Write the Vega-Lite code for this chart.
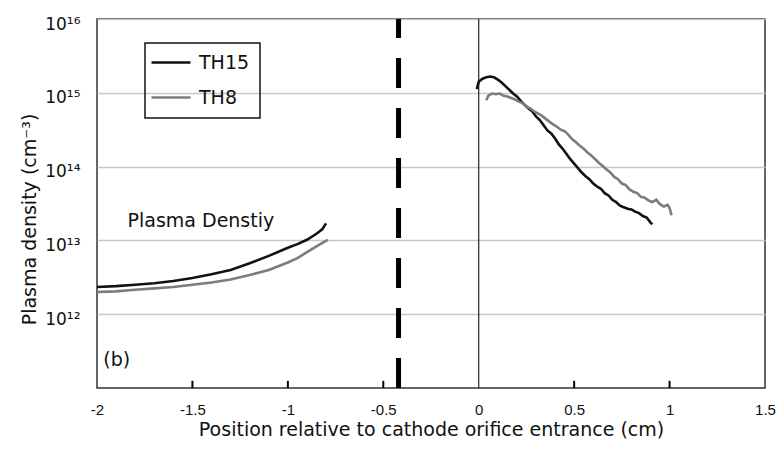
{
  "$schema": "https://vega.github.io/schema/vega-lite/v6.json",
  "width": 668,
  "height": 369,
  "autosize": "none",
  "padding": {"left": 97, "top": 19, "right": 15, "bottom": 63},
  "background": "white",
  "config": {
    "view": {"stroke": "#333333", "strokeWidth": 1.5},
    "axis": {"labelColor": "#111111", "titleColor": "#111111", "titleFontWeight": "normal"},
    "legend": {"strokeWidth": 1.5}
  },
  "datasets": {
    "curves": [
      {"series": "TH15", "seg": "L", "x": -2.0, "n": 2.34e12},
      {"series": "TH15", "seg": "L", "x": -1.9, "n": 2.40e12},
      {"series": "TH15", "seg": "L", "x": -1.8, "n": 2.51e12},
      {"series": "TH15", "seg": "L", "x": -1.7, "n": 2.63e12},
      {"series": "TH15", "seg": "L", "x": -1.6, "n": 2.82e12},
      {"series": "TH15", "seg": "L", "x": -1.5, "n": 3.09e12},
      {"series": "TH15", "seg": "L", "x": -1.4, "n": 3.47e12},
      {"series": "TH15", "seg": "L", "x": -1.3, "n": 3.98e12},
      {"series": "TH15", "seg": "L", "x": -1.2, "n": 4.90e12},
      {"series": "TH15", "seg": "L", "x": -1.1, "n": 6.17e12},
      {"series": "TH15", "seg": "L", "x": -1.0, "n": 7.94e12},
      {"series": "TH15", "seg": "L", "x": -0.95, "n": 8.91e12},
      {"series": "TH15", "seg": "L", "x": -0.9, "n": 1.02e13},
      {"series": "TH15", "seg": "L", "x": -0.85, "n": 1.23e13},
      {"series": "TH15", "seg": "L", "x": -0.82, "n": 1.41e13},
      {"series": "TH15", "seg": "L", "x": -0.8, "n": 1.70e13},
      {"series": "TH15", "seg": "R", "x": -0.01, "n": 1.12e15},
      {"series": "TH15", "seg": "R", "x": 0.0, "n": 1.41e15},
      {"series": "TH15", "seg": "R", "x": 0.02, "n": 1.55e15},
      {"series": "TH15", "seg": "R", "x": 0.04, "n": 1.62e15},
      {"series": "TH15", "seg": "R", "x": 0.06, "n": 1.66e15},
      {"series": "TH15", "seg": "R", "x": 0.08, "n": 1.62e15},
      {"series": "TH15", "seg": "R", "x": 0.10, "n": 1.51e15},
      {"series": "TH15", "seg": "R", "x": 0.12, "n": 1.38e15},
      {"series": "TH15", "seg": "R", "x": 0.14, "n": 1.23e15},
      {"series": "TH15", "seg": "R", "x": 0.16, "n": 1.10e15},
      {"series": "TH15", "seg": "R", "x": 0.18, "n": 9.77e14},
      {"series": "TH15", "seg": "R", "x": 0.20, "n": 8.91e14},
      {"series": "TH15", "seg": "R", "x": 0.22, "n": 7.76e14},
      {"series": "TH15", "seg": "R", "x": 0.24, "n": 6.92e14},
      {"series": "TH15", "seg": "R", "x": 0.26, "n": 6.17e14},
      {"series": "TH15", "seg": "R", "x": 0.28, "n": 5.62e14},
      {"series": "TH15", "seg": "R", "x": 0.30, "n": 4.79e14},
      {"series": "TH15", "seg": "R", "x": 0.32, "n": 4.27e14},
      {"series": "TH15", "seg": "R", "x": 0.34, "n": 3.63e14},
      {"series": "TH15", "seg": "R", "x": 0.36, "n": 3.09e14},
      {"series": "TH15", "seg": "R", "x": 0.38, "n": 2.82e14},
      {"series": "TH15", "seg": "R", "x": 0.40, "n": 2.40e14},
      {"series": "TH15", "seg": "R", "x": 0.42, "n": 2.00e14},
      {"series": "TH15", "seg": "R", "x": 0.44, "n": 1.74e14},
      {"series": "TH15", "seg": "R", "x": 0.46, "n": 1.48e14},
      {"series": "TH15", "seg": "R", "x": 0.48, "n": 1.26e14},
      {"series": "TH15", "seg": "R", "x": 0.50, "n": 1.10e14},
      {"series": "TH15", "seg": "R", "x": 0.52, "n": 9.55e13},
      {"series": "TH15", "seg": "R", "x": 0.54, "n": 8.32e13},
      {"series": "TH15", "seg": "R", "x": 0.56, "n": 7.41e13},
      {"series": "TH15", "seg": "R", "x": 0.58, "n": 6.76e13},
      {"series": "TH15", "seg": "R", "x": 0.60, "n": 5.89e13},
      {"series": "TH15", "seg": "R", "x": 0.62, "n": 5.37e13},
      {"series": "TH15", "seg": "R", "x": 0.64, "n": 5.01e13},
      {"series": "TH15", "seg": "R", "x": 0.66, "n": 4.37e13},
      {"series": "TH15", "seg": "R", "x": 0.68, "n": 4.07e13},
      {"series": "TH15", "seg": "R", "x": 0.70, "n": 3.55e13},
      {"series": "TH15", "seg": "R", "x": 0.72, "n": 3.31e13},
      {"series": "TH15", "seg": "R", "x": 0.74, "n": 2.95e13},
      {"series": "TH15", "seg": "R", "x": 0.76, "n": 2.82e13},
      {"series": "TH15", "seg": "R", "x": 0.78, "n": 2.69e13},
      {"series": "TH15", "seg": "R", "x": 0.80, "n": 2.63e13},
      {"series": "TH15", "seg": "R", "x": 0.82, "n": 2.45e13},
      {"series": "TH15", "seg": "R", "x": 0.84, "n": 2.34e13},
      {"series": "TH15", "seg": "R", "x": 0.86, "n": 2.14e13},
      {"series": "TH15", "seg": "R", "x": 0.88, "n": 2.04e13},
      {"series": "TH15", "seg": "R", "x": 0.90, "n": 1.74e13},
      {"series": "TH15", "seg": "R", "x": 0.91, "n": 1.66e13},
      {"series": "TH8", "seg": "L", "x": -2.0, "n": 2.00e12},
      {"series": "TH8", "seg": "L", "x": -1.9, "n": 2.04e12},
      {"series": "TH8", "seg": "L", "x": -1.8, "n": 2.14e12},
      {"series": "TH8", "seg": "L", "x": -1.7, "n": 2.24e12},
      {"series": "TH8", "seg": "L", "x": -1.6, "n": 2.34e12},
      {"series": "TH8", "seg": "L", "x": -1.5, "n": 2.51e12},
      {"series": "TH8", "seg": "L", "x": -1.4, "n": 2.69e12},
      {"series": "TH8", "seg": "L", "x": -1.3, "n": 2.95e12},
      {"series": "TH8", "seg": "L", "x": -1.2, "n": 3.39e12},
      {"series": "TH8", "seg": "L", "x": -1.1, "n": 3.98e12},
      {"series": "TH8", "seg": "L", "x": -1.0, "n": 5.01e12},
      {"series": "TH8", "seg": "L", "x": -0.95, "n": 5.75e12},
      {"series": "TH8", "seg": "L", "x": -0.9, "n": 6.92e12},
      {"series": "TH8", "seg": "L", "x": -0.85, "n": 8.32e12},
      {"series": "TH8", "seg": "L", "x": -0.81, "n": 9.55e12},
      {"series": "TH8", "seg": "L", "x": -0.79, "n": 1.02e13},
      {"series": "TH8", "seg": "R", "x": 0.04, "n": 7.94e14},
      {"series": "TH8", "seg": "R", "x": 0.05, "n": 9.12e14},
      {"series": "TH8", "seg": "R", "x": 0.07, "n": 9.77e14},
      {"series": "TH8", "seg": "R", "x": 0.09, "n": 9.55e14},
      {"series": "TH8", "seg": "R", "x": 0.11, "n": 9.77e14},
      {"series": "TH8", "seg": "R", "x": 0.13, "n": 9.12e14},
      {"series": "TH8", "seg": "R", "x": 0.15, "n": 8.91e14},
      {"series": "TH8", "seg": "R", "x": 0.17, "n": 8.51e14},
      {"series": "TH8", "seg": "R", "x": 0.19, "n": 8.13e14},
      {"series": "TH8", "seg": "R", "x": 0.21, "n": 7.59e14},
      {"series": "TH8", "seg": "R", "x": 0.23, "n": 7.24e14},
      {"series": "TH8", "seg": "R", "x": 0.25, "n": 6.46e14},
      {"series": "TH8", "seg": "R", "x": 0.27, "n": 6.17e14},
      {"series": "TH8", "seg": "R", "x": 0.29, "n": 5.62e14},
      {"series": "TH8", "seg": "R", "x": 0.31, "n": 5.25e14},
      {"series": "TH8", "seg": "R", "x": 0.33, "n": 4.90e14},
      {"series": "TH8", "seg": "R", "x": 0.35, "n": 4.47e14},
      {"series": "TH8", "seg": "R", "x": 0.37, "n": 4.07e14},
      {"series": "TH8", "seg": "R", "x": 0.39, "n": 3.72e14},
      {"series": "TH8", "seg": "R", "x": 0.41, "n": 3.47e14},
      {"series": "TH8", "seg": "R", "x": 0.43, "n": 3.16e14},
      {"series": "TH8", "seg": "R", "x": 0.45, "n": 3.02e14},
      {"series": "TH8", "seg": "R", "x": 0.47, "n": 2.69e14},
      {"series": "TH8", "seg": "R", "x": 0.49, "n": 2.34e14},
      {"series": "TH8", "seg": "R", "x": 0.51, "n": 2.14e14},
      {"series": "TH8", "seg": "R", "x": 0.53, "n": 1.91e14},
      {"series": "TH8", "seg": "R", "x": 0.55, "n": 1.74e14},
      {"series": "TH8", "seg": "R", "x": 0.57, "n": 1.55e14},
      {"series": "TH8", "seg": "R", "x": 0.59, "n": 1.41e14},
      {"series": "TH8", "seg": "R", "x": 0.61, "n": 1.26e14},
      {"series": "TH8", "seg": "R", "x": 0.63, "n": 1.12e14},
      {"series": "TH8", "seg": "R", "x": 0.65, "n": 1.02e14},
      {"series": "TH8", "seg": "R", "x": 0.67, "n": 9.12e13},
      {"series": "TH8", "seg": "R", "x": 0.69, "n": 8.32e13},
      {"series": "TH8", "seg": "R", "x": 0.71, "n": 7.24e13},
      {"series": "TH8", "seg": "R", "x": 0.73, "n": 6.76e13},
      {"series": "TH8", "seg": "R", "x": 0.75, "n": 5.89e13},
      {"series": "TH8", "seg": "R", "x": 0.77, "n": 5.62e13},
      {"series": "TH8", "seg": "R", "x": 0.79, "n": 4.90e13},
      {"series": "TH8", "seg": "R", "x": 0.81, "n": 4.57e13},
      {"series": "TH8", "seg": "R", "x": 0.83, "n": 4.37e13},
      {"series": "TH8", "seg": "R", "x": 0.85, "n": 3.89e13},
      {"series": "TH8", "seg": "R", "x": 0.87, "n": 3.80e13},
      {"series": "TH8", "seg": "R", "x": 0.89, "n": 3.47e13},
      {"series": "TH8", "seg": "R", "x": 0.91, "n": 3.31e13},
      {"series": "TH8", "seg": "R", "x": 0.93, "n": 3.55e13},
      {"series": "TH8", "seg": "R", "x": 0.95, "n": 3.09e13},
      {"series": "TH8", "seg": "R", "x": 0.97, "n": 2.88e13},
      {"series": "TH8", "seg": "R", "x": 0.99, "n": 3.02e13},
      {"series": "TH8", "seg": "R", "x": 1.00, "n": 2.75e13},
      {"series": "TH8", "seg": "R", "x": 1.01, "n": 2.19e13}
    ],
    "notes": [
      {"label": "Plasma Denstiy", "x": -1.84, "n": 1.83e13},
      {"label": "(b)", "x": -1.967, "n": 2.4e11}
    ],
    "zero": [{"x": 0}],
    "orifice": [{"x": -0.42, "lo": 1e11, "hi": 1e16}],
    "tickmarks": [
      {"tx": -1.5, "tlo": 1e11, "thi": 1.25e11},
      {"tx": -1.0, "tlo": 1e11, "thi": 1.25e11},
      {"tx": -0.5, "tlo": 1e11, "thi": 1.25e11},
      {"tx": 0.5, "tlo": 1e11, "thi": 1.25e11},
      {"tx": 1.0, "tlo": 1e11, "thi": 1.25e11}
    ]
  },
  "layer": [
    {
      "data": {"name": "zero"},
      "mark": {"type": "rule", "color": "#222222", "strokeWidth": 1.2},
      "encoding": {
        "x": {"field": "x", "type": "quantitative", "scale": {"domain": [-2, 1.5], "nice": false, "zero": false}}
      }
    },
    {
      "data": {"name": "orifice"},
      "mark": {"type": "rule", "color": "#000000", "strokeWidth": 5, "strokeDash": [30, 20]},
      "encoding": {
        "x": {"field": "x", "type": "quantitative"},
        "y": {"field": "lo", "type": "quantitative"},
        "y2": {"field": "hi"}
      }
    },
    {
      "data": {"name": "curves"},
      "mark": {"type": "line", "strokeWidth": 2.6, "clip": true},
      "encoding": {
        "x": {
          "field": "x", "type": "quantitative",
          "scale": {"domain": [-2, 1.5], "nice": false, "zero": false},
          "axis": {
            "title": "Position relative to cathode orifice entrance (cm)",
            "titleFont": "DejaVu Sans", "titleFontSize": 19,
            "titleY": 47, "titleBaseline": "alphabetic",
            "values": [-2, -1.5, -1, -0.5, 0, 0.5, 1, 1.5],
            "labelExpr": "'' + datum.value",
            "labelFont": "Liberation Sans", "labelFontSize": 15,
            "labelBaseline": "alphabetic", "labelPadding": 26,
            "labelFlush": false, "labelOverlap": false,
            "ticks": false,
            "domain": false, "grid": false
          }
        },
        "y": {
          "field": "n", "type": "quantitative",
          "scale": {"type": "log", "domain": [1e11, 1e16], "nice": false},
          "axis": {
            "title": "Plasma density (cm⁻³)",
            "titleFont": "DejaVu Sans", "titleFontSize": 19,
            "titleX": -68, "titleY": 200, "titleAngle": 270,
            "titleAlign": "center", "titleBaseline": "middle",
            "values": [1e12, 1e13, 1e14, 1e15, 1e16],
            "labelExpr": "datum.value > 5e15 ? '10¹⁶' : datum.value > 5e14 ? '10¹⁵' : datum.value > 5e13 ? '10¹⁴' : datum.value > 5e12 ? '10¹³' : '10¹²'",
            "labelFont": "DejaVu Sans", "labelFontSize": 17,
            "labelPadding": 17, "labelOffset": 5,
            "ticks": false, "domain": false,
            "grid": true, "gridColor": "#c8c8c8", "gridWidth": 1.5
          }
        },
        "color": {
          "field": "series", "type": "nominal",
          "scale": {"domain": ["TH15", "TH8"], "range": ["#111111", "#7c7c7c"]},
          "legend": {
            "title": null,
            "orient": "none", "legendX": 48, "legendY": 24,
            "padding": 10, "strokeColor": "#111111",
            "symbolType": "M-1.625,0H3.25", "symbolSize": 256, "symbolStrokeWidth": 2.6,
            "labelOffset": 25, "labelFont": "DejaVu Sans", "labelFontSize": 19, "labelColor": "#111111",
            "rowPadding": 15
          }
        },
        "detail": {"field": "seg", "type": "nominal"}
      }
    },
    {
      "data": {"name": "tickmarks"},
      "mark": {"type": "rule", "color": "#000000", "strokeWidth": 2},
      "encoding": {
        "x": {"field": "tx", "type": "quantitative"},
        "y": {"field": "tlo", "type": "quantitative"},
        "y2": {"field": "thi"}
      }
    },
    {
      "data": {"name": "notes"},
      "mark": {"type": "text", "align": "left", "baseline": "middle", "font": "DejaVu Sans", "fontSize": 19, "color": "#111111"},
      "encoding": {
        "x": {"field": "x", "type": "quantitative"},
        "y": {"field": "n", "type": "quantitative"},
        "text": {"field": "label"}
      }
    }
  ]
}
